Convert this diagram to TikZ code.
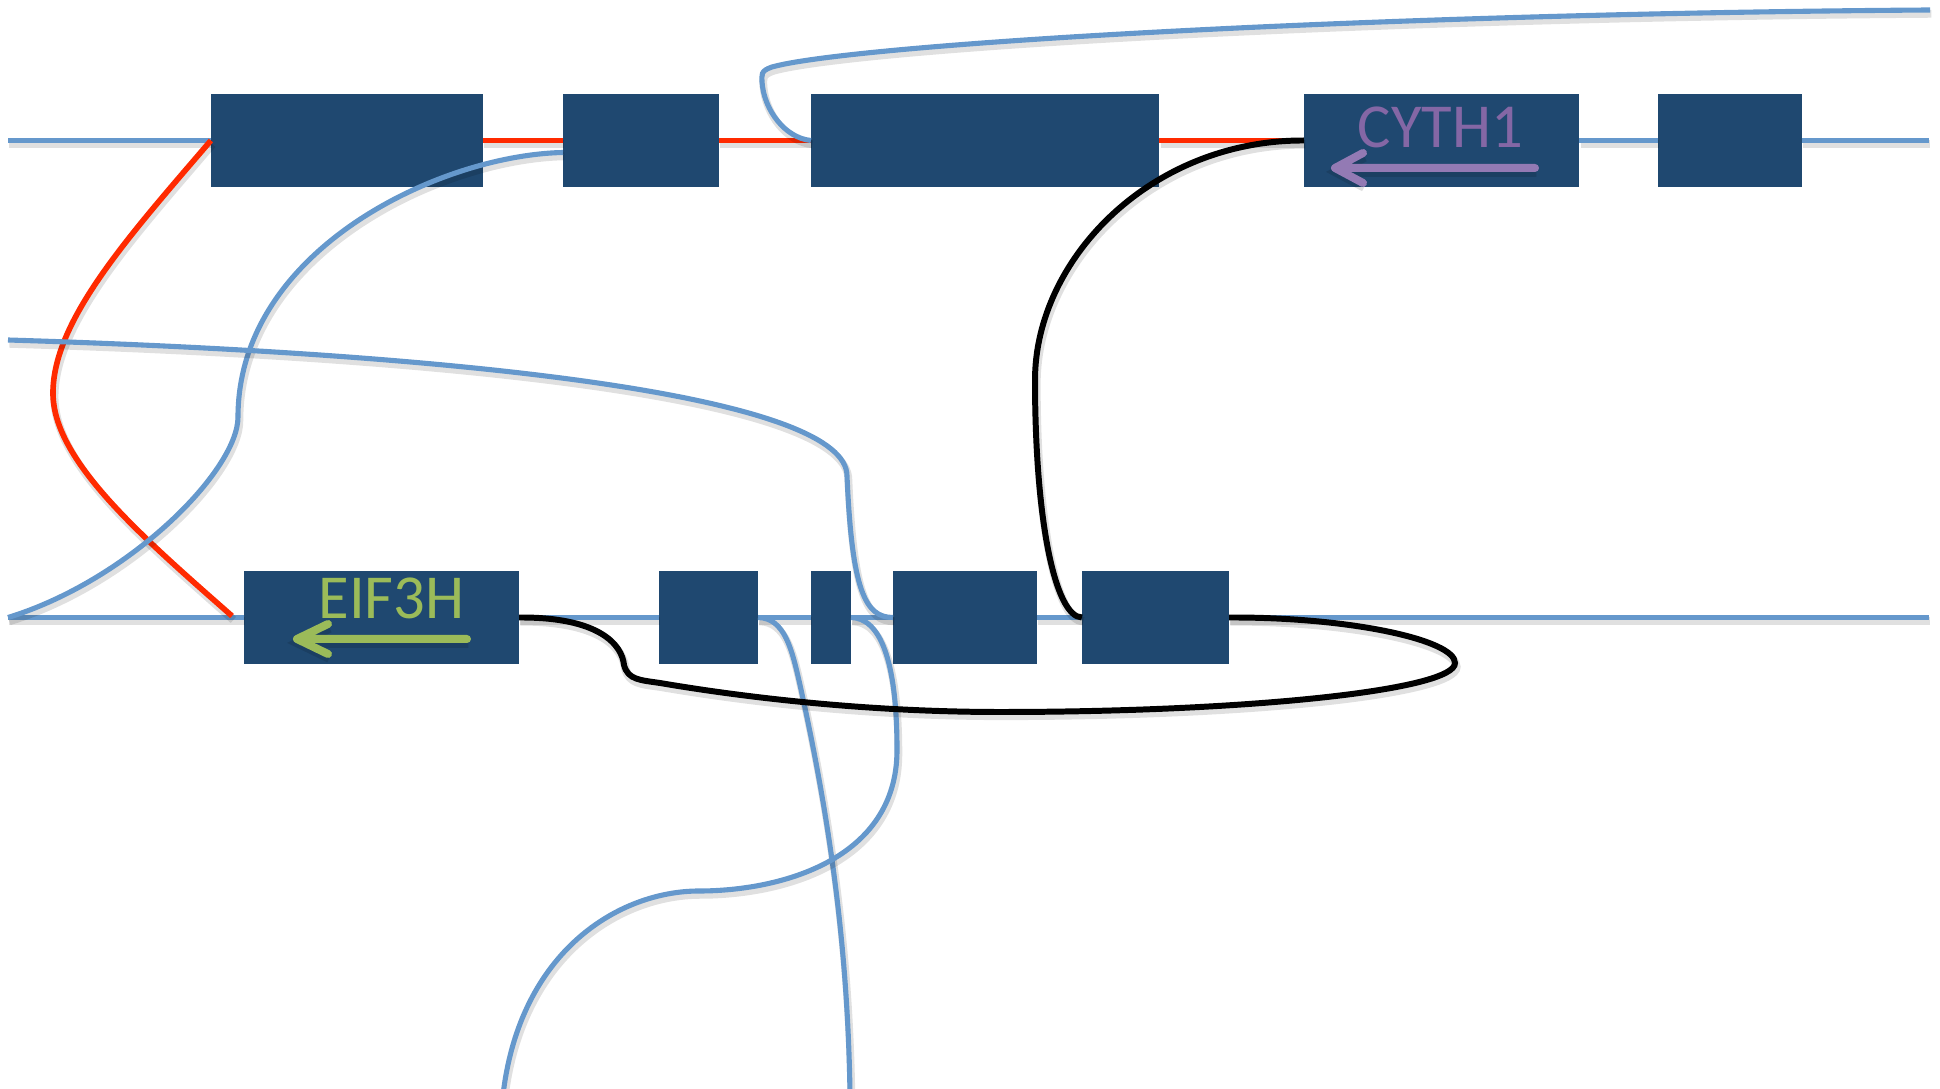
\documentclass[tikz,border=0pt]{standalone}
\usepackage{fontspec}
\setmainfont{Carlito}
\usetikzlibrary{calc}
\definecolor{boxblue}{HTML}{1F4870}
\definecolor{lineblue}{HTML}{6598CC}
\definecolor{redline}{HTML}{FF2A00}
\definecolor{cythpurple}{HTML}{8467A5}
\definecolor{cytharrow}{HTML}{937AB4}
\definecolor{eifgreen}{HTML}{9BBB59}
\begin{document}
\begin{tikzpicture}[x=0.01cm,y=-0.01cm,
  exon/.style={fill=boxblue, inner sep=0pt, outer sep=0pt, minimum height=0.93cm},
  shd/.style={preaction={draw=black, draw opacity=0.12, line width=#1,
      transform canvas={shift={(0.4pt,-1.1pt)}}}},
  shd/.default=2.2pt,
  bline/.style={draw=lineblue, line width=1.45pt, shd},
  rline/.style={draw=redline, line width=1.6pt, shd=2.3pt},
  kline/.style={draw=black, line width=1.7pt, shd=2.4pt},
  lbl/.style={font=\fontsize{17.8pt}{21pt}\selectfont, anchor=base, inner sep=0pt},
  dirarrow/.style={line width=0.08cm, line cap=round, line join=round, shd=2.8pt}
]
\useasboundingbox (0,0) rectangle (1940,1089);

% free ends
\coordinate (LT) at (8,140.5);
\coordinate (RT) at (1929,140.5);
\coordinate (LB) at (8,617.5);
\coordinate (RB) at (1929,617.5);
\coordinate (LM) at (8,340);
\coordinate (TR) at (1930,10);
\coordinate (RE) at (232,616);
\coordinate (BA) at (850,1095);
\coordinate (BB) at (503,1095);

% exons
\node[exon, minimum width=2.72cm] (t1) at (347,140.5) {};
\node[exon, minimum width=1.56cm] (t2) at (641,140.5) {};
\node[exon, minimum width=3.48cm] (t3) at (985,140.5) {};
\node[exon, minimum width=2.75cm] (t4) at (1441.5,140.5) {};
\node[exon, minimum width=1.44cm] (t5) at (1730,140.5) {};
\node[exon, minimum width=2.75cm] (b1) at (381.5,617.5) {};
\node[exon, minimum width=0.99cm] (b2) at (708.5,617.5) {};
\node[exon, minimum width=0.40cm] (b3) at (831,617.5) {};
\node[exon, minimum width=1.44cm] (b4) at (965,617.5) {};
\node[exon, minimum width=1.47cm] (b5) at (1155.5,617.5) {};

% top gene line
\draw[bline] (LT) -- (t1.west);
\draw[rline] (t1.east) -- (t2.west);
\draw[rline] (t2.east) -- (t3.west);
\draw[rline] (t3.east) -- (t4.west);
\draw[bline] (t4.east) -- (t5.west);
\draw[bline] (t5.east) -- (RT);

% bottom gene line
\draw[bline] (LB) -- (b1.west);
\draw[bline] (b1.east) -- (b2.west);
\draw[bline] (b2.east) -- (b3.west);
\draw[bline] (b3.east) -- (b4.west);
\draw[bline] (b4.east) -- (b5.west);
\draw[bline] (b5.east) -- (RB);

% red curve
\draw[rline] (t1.west) .. controls (130,235) and (53,320) .. (53,393)
  .. controls (53,460) and (140,535) .. (RE);

% blue curves
\draw[bline] ($(t2.west)+(0,12)$) .. controls (440,155) and (238,250) .. (238,417)
  .. controls (238,470) and (130,580) .. (LB);
\draw[bline] (LM) .. controls (500,355) and (847,400) .. (847,476)
  .. controls (852,590) and (865,617.5) .. (b4.west);
\draw[bline] (TR) .. controls (1350,14) and (850,45) .. (772,67)
  .. controls (760,71) and (762,75) .. (762,82)
  .. controls (764,110) and (785,138) .. (t3.west);
\draw[bline] (b2.east) .. controls (785,618) and (792,650) .. (800,685)
  .. controls (830,820) and (848,950) .. (BA);
\draw[bline] (b3.east) .. controls (880,618) and (897,660) .. (897,750)
  .. controls (897,860) and (780,891) .. (699,891)
  .. controls (620,891) and (520,950) .. (BB);

% black curves
\draw[kline] (t4.west) .. controls (1150,140) and (1035,260) .. (1035,380)
  .. controls (1035,520) and (1055,617) .. (b5.west);
\draw[kline] (b1.east) .. controls (600,617) and (622,645) .. (624,665)
  .. controls (628,680) and (640,680) .. (660,683)
  .. controls (760,700) and (880,712) .. (1000,712)
  .. controls (1250,712) and (1455,690) .. (1455,663)
  .. controls (1455,640) and (1350,617) .. (b5.east);

% labels
\node[lbl, text=cythpurple] (cyth) at (1440.5,148) {CYTH1};
\node[lbl, text=eifgreen] (eif) at (391.5,619) {EIF3H};
\coordinate (ca1) at (1535,168);
\coordinate (ca2) at (1335,168);
\coordinate (ea1) at (467,639);
\coordinate (ea2) at (297,639);
\draw[dirarrow, draw=cytharrow] (ca1) -- (ca2) (1363,153) -- (ca2) -- (1363,183);
\draw[dirarrow, draw=eifgreen] (ea1) -- (ea2) (328,624) -- (ea2) -- (328,654);
\end{tikzpicture}
\end{document}
